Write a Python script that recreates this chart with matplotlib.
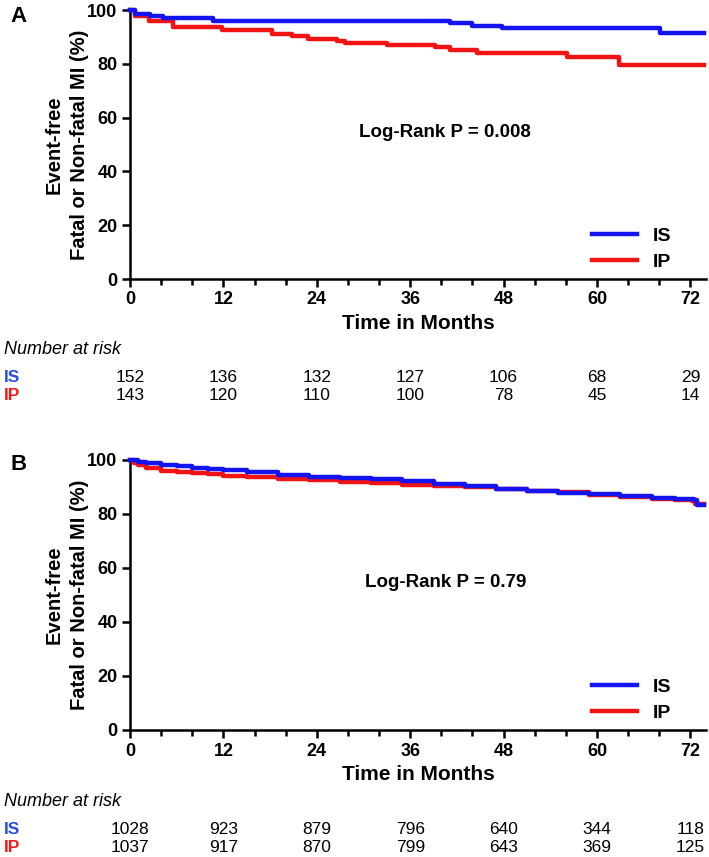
import numpy as np
import matplotlib
matplotlib.use('Agg')
from matplotlib import pyplot as plt
from matplotlib.ticker import MultipleLocator

plt.rcParams['font.family'] = ['Liberation Sans Narrow', 'Liberation Sans', 'DejaVu Sans']

# Panel A step curves (months, % event-free)
a_is_t = [0, 0.6, 2.6, 4.3, 10.7, 41.1, 43.9, 47.8, 68.1, 73.8]
a_is_s = [100, 98.6, 97.8, 97.1, 96.0, 95.0, 94.1, 93.2, 91.4, 91.4]
a_ip_t = [0, 0.6, 2.4, 5.5, 11.8, 18.2, 20.8, 22.9, 26.6, 27.6, 33.0, 39.2, 41.1, 44.6, 56.1, 62.8, 73.8]
a_ip_s = [100, 97.6, 96.0, 93.7, 92.5, 91.2, 90.3, 89.3, 88.5, 87.7, 87.1, 86.2, 85.0, 84.0, 82.5, 79.7, 79.7]

# Panel B curves (many small steps, read at intervals)
b_is_t = [0, 1, 2, 4, 6, 8, 10, 12, 15, 19, 23, 27, 31, 35, 39, 43, 47, 51, 55, 59, 63, 67, 70, 72.4, 72.9, 73.8]
b_is_s = [100, 99.3, 98.9, 98.2, 97.6, 97.1, 96.8, 96.2, 95.6, 94.6, 93.8, 93.3, 92.8, 92.2, 91.2, 90.3, 89.3, 88.6, 87.9, 87.3, 86.6, 85.8, 85.4, 85.3, 83.3, 83.3]
b_ip_t = [0, 0.5, 1, 2, 4, 6, 8, 10, 12, 15, 19, 23, 27, 31, 35, 39, 43, 47, 51, 55, 59, 63, 67, 70, 72.2, 72.6, 73.8]
b_ip_s = [100, 98.8, 98.0, 97.1, 96.0, 95.6, 95.2, 94.8, 94.2, 93.6, 93.0, 92.5, 92.0, 91.5, 90.9, 90.4, 89.9, 89.3, 88.7, 88.0, 87.2, 86.3, 85.4, 85.1, 85.0, 83.6, 83.6]

months = [0, 12, 24, 36, 48, 60, 72]
a_risk_is = [152, 136, 132, 127, 106, 68, 29]
a_risk_ip = [143, 120, 110, 100, 78, 45, 14]
b_risk_is = [1028, 923, 879, 796, 640, 344, 118]
b_risk_ip = [1037, 917, 870, 799, 643, 369, 125]

BLUE = '#1414f0'
RED = '#f01414'
W, H = 709, 857


def px(x, y):
    # figure pixel (from top-left) -> figure fraction
    return x / W, 1 - y / H


def draw_panel(ax, letter, is_t, is_s, ip_t, ip_s, pval, risk_is, risk_ip, y_axis, y_risk):
    ax.step(is_t, is_s, where='post', color=BLUE, lw=3.2, clip_on=False, zorder=4, label='IS')
    ax.step(ip_t, ip_s, where='post', color=RED, lw=3.2, clip_on=False, zorder=3, label='IP')
    ax.set_xlim(0, 74)
    ax.set_ylim(0, 100)
    ax.spines['top'].set_visible(False)
    ax.spines['right'].set_visible(False)
    for s in ('left', 'bottom'):
        ax.spines[s].set_linewidth(1.8)
    ax.xaxis.set_major_locator(MultipleLocator(12))
    ax.xaxis.set_minor_locator(MultipleLocator(4))
    ax.yaxis.set_major_locator(MultipleLocator(20))
    ax.tick_params(which='major', length=6, width=1.8, labelsize=13, pad=3)
    ax.tick_params(which='minor', length=4, width=1.8)
    for lab in ax.get_xticklabels() + ax.get_yticklabels():
        lab.set_fontweight('bold')
    ax.set_xlabel('Time in Months', fontsize=15, fontweight='bold', labelpad=4)
    ax.set_ylabel('Event-free\nFatal or Non-fatal MI (%)', fontsize=14.5, fontweight='bold',
                  linespacing=1.4)
    ax.yaxis.set_label_coords(-0.072, 0.5)
    ax.text(40.5, 54.5, 'Log-Rank P = ' + pval, fontsize=13.5, fontweight='bold',
            ha='center', va='center')
    leg = ax.legend(loc='lower right', bbox_to_anchor=(0.97, -0.035), frameon=False,
                    fontsize=14, handlelength=2.3, handletextpad=0.8, labelspacing=0.45)
    for t in leg.get_texts():
        t.set_fontweight('bold')
    fig.text(*px(10, y_axis - 3), letter, fontsize=16, fontweight='bold', va='center')

    # number at risk table
    fig.text(*px(4, y_risk), 'Number at risk', fontsize=13, style='italic', va='center')
    for label, color, row, dy in (('IS', '#2a4ee0', risk_is, 27), ('IP', '#ee1c1c', risk_ip, 46)):
        fig.text(*px(4, y_risk + dy), label, fontsize=12.5, fontweight='bold', color=color, va='center')
        for m, n in zip(months, row):
            xf = ax.transData.transform((m, 0))[0] / fig.dpi / fig.get_figwidth()
            fig.text(xf, 1 - (y_risk + dy) / H, str(n), fontsize=12.5, ha='center', va='center')


fig = plt.figure(figsize=(7.09, 8.57), dpi=100)
ax_a = fig.add_axes([130 / W, 1 - 279 / H, 576 / W, 269 / H])
ax_b = fig.add_axes([130 / W, 1 - 730 / H, 576 / W, 270 / H])

draw_panel(ax_a, 'A', a_is_t, a_is_s, a_ip_t, a_ip_s, '0.008', a_risk_is, a_risk_ip, 20, 350)
draw_panel(ax_b, 'B', b_is_t, b_is_s, b_ip_t, b_ip_s, '0.79', b_risk_is, b_risk_ip, 468, 802)

fig.savefig('out.png', dpi=100)
